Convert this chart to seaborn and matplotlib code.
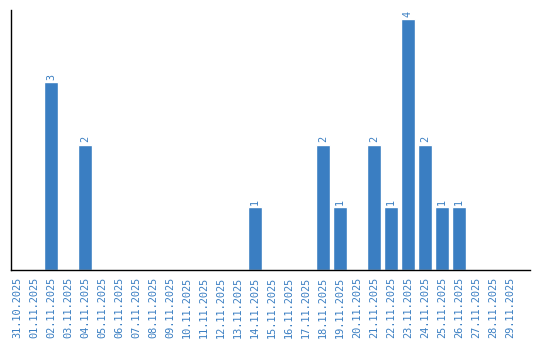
import matplotlib
matplotlib.use("Agg")
import matplotlib.pyplot as plt
import seaborn as sns
import pandas as pd

dates = ["31.10.2025"] + [f"{d:02d}.11.2025" for d in range(1, 30)]
values = [0, 0, 3, 0, 2, 0, 0, 0, 0, 0, 0, 0, 0, 0, 1, 0, 0, 0, 2, 1,
          0, 2, 1, 4, 2, 1, 1, 0, 0, 0]

df = pd.DataFrame({"date": dates, "count": values})

sns.set_style("white")
plt.rcParams['font.family'] = ['DejaVu Sans Mono', 'DejaVu Sans']

color = "#3a7ec2"
fig = plt.figure(figsize=(5.4, 3.4), dpi=100)
ax = fig.add_axes([11/540, 70/340, 519/540, 260/340])
sns.barplot(data=df, x="date", y="count", color=color, saturation=1,
            width=0.82, ax=ax)
ax.set_xlim(-0.353, 30.18)
ax.set_ylim(0, 4.15)
for i, v in enumerate(values):
    if v > 0:
        ax.text(i, v + 0.04, str(v), rotation=90, ha="center", va="bottom",
                color=color, fontsize=7.3)
ax.set_xlabel("")
ax.set_ylabel("")
ax.set_yticks([])
ax.tick_params(axis="x", length=0, pad=5, labelsize=7.4, labelcolor=color)
for lbl in ax.get_xticklabels():
    lbl.set_rotation(90)
for s in ["top", "right"]:
    ax.spines[s].set_visible(False)
for s in ["left", "bottom"]:
    ax.spines[s].set_color("black")
    ax.spines[s].set_linewidth(1)
fig.savefig("out.png", dpi=100)
